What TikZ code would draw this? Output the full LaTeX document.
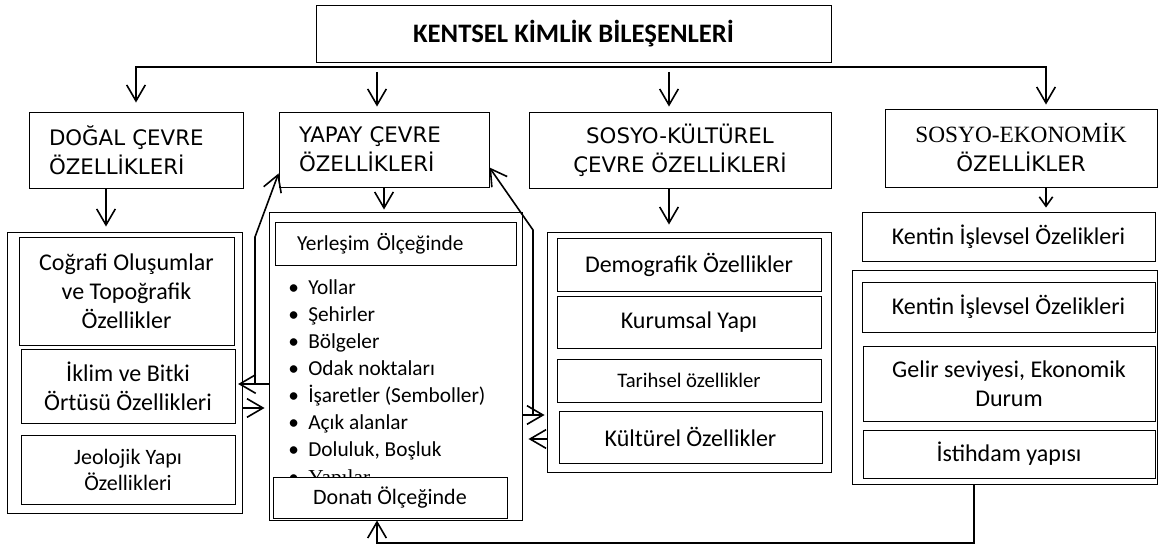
\documentclass[tikz,border=0pt]{standalone}
\usepackage{fontspec}
\setmainfont{Carlito}
\newfontfamily\headfont{DejaVu Sans}
\newfontfamily\serffont{Liberation Serif}
\usetikzlibrary{arrows.meta,positioning}

\begin{document}
\begin{tikzpicture}[
    x=0.75pt, y=-0.75pt,
    >={Straight Barb[length=12pt,width=14pt]},
    box/.style={
        rectangle,
        draw=black,
        line width=0.7pt,
        inner sep=0pt,
        align=center,
        font=\fontsize{18}{21.75}\selectfont
    },
    headbox/.style={
        box,
        font=\headfont\fontsize{16}{21.75}\selectfont
    },
    frame/.style={
        rectangle,
        draw=black,
        line width=0.7pt,
        inner sep=0pt
    },
    link/.style={
        line width=1.2pt
    }
]
\useasboundingbox (0,0) rectangle (1159,548);

% Title
\node[box, minimum width=386.25pt, minimum height=42.75pt,
    font=\bfseries\fontsize{20}{22}\selectfont] (kimlik) at (573.5,33.5) {KENTSEL KİMLİK BİLEŞENLERİ};

% Headers
\node[headbox, minimum width=160.5pt, minimum height=57pt, text width=130.5pt, align=left]
    (dogal) at (136,150) {DOĞAL ÇEVRE\\ÖZELLİKLERİ};
\node[headbox, minimum width=157.5pt, minimum height=56.25pt, text width=127.5pt, align=left]
    (yapay) at (384,149.5) {YAPAY ÇEVRE\\ÖZELLİKLERİ};
\node[headbox, minimum width=226.5pt, minimum height=57pt]
    (sosku) at (680,150) {SOSYO-KÜLTÜREL\\ÇEVRE ÖZELLİKLERİ};
\node[headbox, minimum width=204pt, minimum height=58.5pt]
    (sosek) at (1021,148) {{\serffont\fontsize{17.5}{20.25}\selectfont SOSYO-EKONOMİK}\\ÖZELLİKLER};

% Natural environment
\node[frame, minimum width=176.25pt, minimum height=210.75pt] (dogout) at (124.5,372.5) {};
\node[box, minimum width=161.25pt, minimum height=81pt] (cografi) at (126.5,291)
    {Coğrafi Oluşumlar\\ve Topoğrafik\\Özellikler};
\node[box, minimum width=160.5pt, minimum height=55.5pt] (iklim) at (128,386)
    {İklim ve Bitki\\Örtüsü Özellikleri};
\node[box, minimum width=160.5pt, minimum height=51.75pt, font=\fontsize{16.5}{19.5}\selectfont]
    (jeoloji) at (128,469.5) {Jeolojik Yapı\\Özellikleri};

% Built environment
\node[frame, minimum width=189.75pt, minimum height=231pt] (yapout) at (395.5,366) {};
\node[box, minimum width=180.75pt, minimum height=32.25pt, text width=147.75pt, align=left,
    font=\fontsize{16}{19}\selectfont] (yerlesim) at (395.5,243.5) {Yerleşim Ölçeğinde};
\node[anchor=west, inner sep=0pt, align=left, font=\fontsize{16}{20.25}\selectfont] (liste) at (288,370) {
    \makebox[15pt][l]{•}Yollar\\
    \makebox[15pt][l]{•}Şehirler\\
    \makebox[15pt][l]{•}Bölgeler\\
    \makebox[15pt][l]{•}Odak noktaları\\
    \makebox[15pt][l]{•}İşaretler (Semboller)\\
    \makebox[15pt][l]{•}Açık alanlar\\
    \makebox[15pt][l]{•}Doluluk, Boşluk
};
\node[anchor=base west, inner sep=0pt, font=\fontsize{16}{20.25}\selectfont] (yapilar) at (288,484)
    {\makebox[15pt][l]{•}{\serffont Yapılar}};
\node[box, fill=white, minimum width=175.5pt, minimum height=30.75pt, font=\fontsize{16.5}{19}\selectfont]
    (donati) at (390,497.5) {Donatı Ölçeğinde};

% Socio-cultural
\node[frame, minimum width=213pt, minimum height=180pt] (skout) at (689,352) {};
\node[box, minimum width=198pt, minimum height=39.75pt] (demog) at (689,264.5) {Demografik Özellikler};
\node[box, minimum width=198pt, minimum height=39pt] (kurum) at (689,322) {Kurumsal Yapı};
\node[box, minimum width=198pt, minimum height=32.25pt, font=\fontsize{15.5}{19}\selectfont]
    (tarih) at (689,380.5) {Tarihsel özellikler};
\node[box, minimum width=197.25pt, minimum height=39pt] (kultur) at (690.5,437) {Kültürel Özellikler};

% Socio-economic
\node[box, minimum width=219.75pt, minimum height=36.75pt] (islev) at (1008.5,236.5) {Kentin İşlevsel Özelikleri};
\node[frame, minimum width=228.75pt, minimum height=160.5pt] (seout) at (1004.5,377) {};
\node[box, minimum width=219.75pt, minimum height=37.5pt] (islevb) at (1008.5,307) {Kentin İşlevsel Özelikleri};
\node[box, minimum width=219pt, minimum height=56.25pt] (gelir) at (1009,383.5) {Gelir seviyesi, Ekonomik\\Durum};
\node[box, minimum width=219pt, minimum height=36pt] (istihdam) at (1009,454) {İstihdam yapısı};

% Bus under the title
\coordinate (busL) at (136,67);
\coordinate (busR) at (1046,67);
\coordinate (busY) at (377,72);
\coordinate (busS) at (669,72);
\draw[link, <->, shorten <=6.75pt, shorten >=3pt] (dogal.north) -- (busL) -- (busR) -- (busR |- sosek.north);
\draw[link, ->, shorten >=3.75pt] (busY) -- (busY |- yapay.north);
\draw[link, ->, shorten >=3.75pt] (busS) -- (busS |- sosku.north);

% Headers to contents
\draw[link, ->, shorten >=3.75pt] ([xshift=-22.5pt]dogal.south) -- ([xshift=-22.5pt]dogal.south |- dogout.north);
\draw[link, ->, shorten >=1.5pt] (yapay.south) -- (yapay.south |- yapout.north);
\draw[link, ->, shorten >=5.25pt] ([xshift=-8.25pt]sosku.south) -- ([xshift=-8.25pt]sosku.south |- skout.north);
\draw[link, >={Straight Barb[length=7pt,width=10pt]}, ->, shorten >=3pt]
    ([xshift=18.75pt]sosek.south) -- ([xshift=18.75pt]sosek.south |- islev.north);

% Links between natural and built environment
\coordinate (lk1) at (255,237);
\coordinate (lk2) at (255,384);
\coordinate (lk3) at (242,408);
\draw[link, <->, shorten <=2pt] (iklim.east |- lk2) -- (lk2) -- (lk1) -- ([yshift=10.5pt]yapay.south west);
\draw[link] (lk2) -- (lk2 -| yapout.west);
\draw[link, ->, shorten >=3pt] (lk3) -- (lk3 -| yapout.west);

% Links between built and socio-cultural environment
\coordinate (rk1) at (533,230);
\coordinate (rk2) at (533,415);
\coordinate (rk3) at (547,439);
\draw[link, <->, shorten >=1.5pt] ([yshift=15pt]yapay.south east) -- (rk1) -- (rk2) -- (rk2 -| skout.west);
\draw[link] (rk2) -- (rk2 -| yapout.east);
\draw[link, ->, shorten >=4.5pt] (rk3) -- (rk3 -| yapout.east);

% Feedback from socio-economic
\coordinate (loop) at (377,543);
\draw[link, ->] ([xshift=-22.875pt]seout.south) |- (loop) -- (loop |- yapout.south);

\end{tikzpicture}
\end{document}
